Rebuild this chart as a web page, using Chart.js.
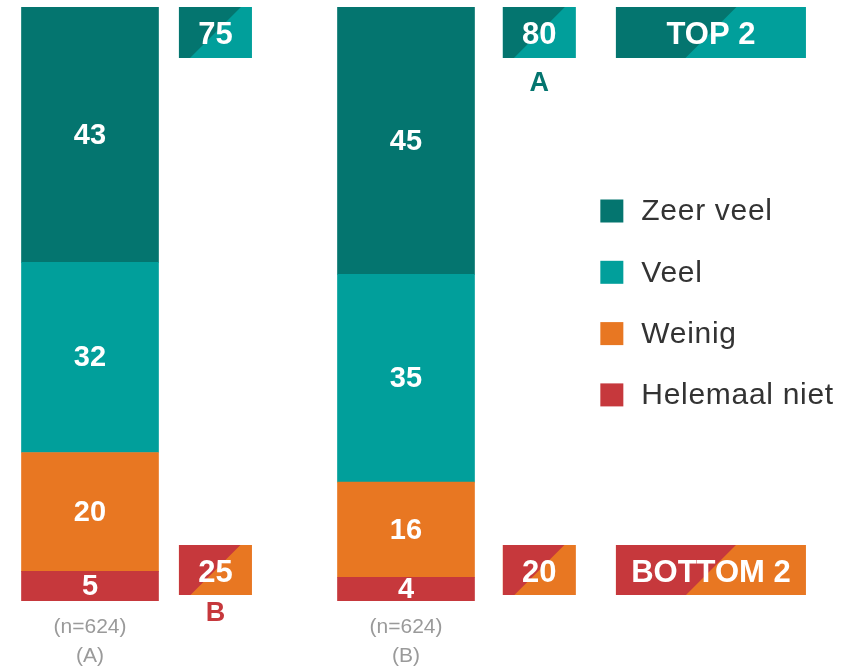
<!DOCTYPE html>
<html>
<head>
<meta charset="utf-8">
<script src="https://cdn.jsdelivr.net/npm/chart.js@4.4.1/dist/chart.umd.min.js"></script>
<style>
  html, body { margin: 0; padding: 0; background: #fff; }
  #wrap { width: 851px; height: 671px; position: relative; }
</style>
</head>
<body>
<div id="wrap"><canvas id="chart"></canvas></div>
<script>
// data
const groups = ["A", "B"];
const sampleSizes = [624, 624];
const seriesNames = ["Helemaal niet", "Weinig", "Veel", "Zeer veel"]; // bottom -> top
const helemaalNiet = [5, 4];
const weinig = [20, 16];
const veel = [32, 35];
const zeerVeel = [43, 45];
const top2Sig = ["", "A"];     // letter shown under the top-2 box
const bottom2Sig = ["B", ""];  // letter shown under the bottom-2 box

const COLORS = {
  "Zeer veel": "#04756f",
  "Veel": "#019f9b",
  "Weinig": "#e87722",
  "Helemaal niet": "#c6383c",
};
const FONT = "'Liberation Sans', Arial, Helvetica, sans-serif";

const seriesValues = [helemaalNiet, weinig, veel, zeerVeel];
const top2 = groups.map((g, i) => veel[i] + zeerVeel[i]);
const bottom2 = groups.map((g, i) => helemaalNiet[i] + weinig[i]);

// x positions (axis units) of the side boxes next to each bar, and of the summary column
const boxPos = [0.397, 1.422];
const summaryPos = 1.965;
const legendPos = 1.615;

function splitBox(ctx, cx, top, w, h, c1, c2, label) {
  const left = cx - w / 2, bottom = top + h;
  ctx.fillStyle = c2;
  ctx.fillRect(left, top, w, h);
  ctx.fillStyle = c1;
  ctx.beginPath();
  ctx.moveTo(left, top);
  ctx.lineTo(cx + h / 2, top);
  ctx.lineTo(cx - h / 2, bottom);
  ctx.lineTo(left, bottom);
  ctx.closePath();
  ctx.fill();
  ctx.fillStyle = "#fff";
  ctx.font = "bold 31px " + FONT;
  ctx.textAlign = "center";
  ctx.textBaseline = "middle";
  ctx.fillText(label, cx, top + h / 2 + 3);
}

const overlay = {
  id: "overlay",
  afterDatasetsDraw(chart) {
    const ctx = chart.ctx;
    const area = chart.chartArea;
    const xs = chart.scales.x;
    ctx.save();

    // values inside the bar segments
    ctx.fillStyle = "#fff";
    ctx.font = "bold 29px " + FONT;
    ctx.textAlign = "center";
    ctx.textBaseline = "middle";
    chart.data.datasets.forEach((ds, di) => {
      chart.getDatasetMeta(di).data.forEach((bar, i) => {
        const v = ds.data[i].y;
        ctx.fillText(String(v), bar.x, (bar.y + bar.base) / 2 + 1);
      });
    });

    // top-2 / bottom-2 boxes per group
    const topY = area.top, boxH = 51;
    const botY = area.bottom - 56;
    groups.forEach((g, i) => {
      const cx = xs.getPixelForValue(boxPos[i]);
      splitBox(ctx, cx, topY, 73, boxH, COLORS["Zeer veel"], COLORS["Veel"], String(top2[i]));
      splitBox(ctx, cx, botY, 73, 50, COLORS["Helemaal niet"], COLORS["Weinig"], String(bottom2[i]));
      ctx.font = "bold 27px " + FONT;
      ctx.textAlign = "center";
      ctx.textBaseline = "middle";
      if (top2Sig[i]) {
        ctx.fillStyle = COLORS["Zeer veel"];
        ctx.fillText(top2Sig[i], cx, topY + boxH + 26);
      }
      if (bottom2Sig[i]) {
        ctx.fillStyle = COLORS["Helemaal niet"];
        ctx.fillText(bottom2Sig[i], cx, botY + 50 + 19);
      }
    });

    // summary boxes
    const sx = xs.getPixelForValue(summaryPos);
    splitBox(ctx, sx, topY, 190, boxH, COLORS["Zeer veel"], COLORS["Veel"], "TOP 2");
    splitBox(ctx, sx, botY, 190, 50, COLORS["Helemaal niet"], COLORS["Weinig"], "BOTTOM 2");

    // legend (top -> bottom)
    const lx = xs.getPixelForValue(legendPos);
    const legendOrder = seriesNames.slice().reverse();
    ctx.font = "30px " + FONT;
    ctx.letterSpacing = "0.7px";
    ctx.textAlign = "left";
    ctx.textBaseline = "middle";
    legendOrder.forEach((name, k) => {
      const cy = area.top + 204 + k * 61.3;
      ctx.fillStyle = COLORS[name];
      ctx.fillRect(lx, cy - 11.5, 23, 23);
      ctx.fillStyle = "#333";
      ctx.fillText(name, lx + 41, cy + 1);
    });

    ctx.restore();
  },
};

const datasets = seriesNames.map((name, si) => ({
  label: name,
  data: groups.map((g, i) => ({ x: i, y: seriesValues[si][i] })),
  backgroundColor: COLORS[name],
  borderWidth: 0,
  barThickness: 137,
}));

new Chart(document.getElementById("chart"), {
  type: "bar",
  data: { datasets },
  plugins: [overlay],
  options: {
    responsive: true,
    maintainAspectRatio: false,
    animation: false,
    layout: { padding: { top: 7, left: 0, right: 0, bottom: -12 } },
    plugins: { legend: { display: false }, tooltip: { enabled: false } },
    scales: {
      x: {
        type: "linear",
        stacked: true,
        offset: false,
        bounds: "ticks",
        min: -90 / 316,
        max: (851 - 90) / 316,
        afterBuildTicks: (scale) => { scale.ticks = groups.map((g, i) => ({ value: i })); },
        ticks: {
          autoSkip: false,
          maxRotation: 0,
          padding: 11.6,
          color: "#9a9a9a",
          font: { family: FONT, size: 21, lineHeight: 1.4 },
          callback: (v) => ["(n=" + sampleSizes[v] + ")", "(" + groups[v] + ")"],
        },
        grid: { display: false, drawTicks: false, offset: false },
        border: { display: false },
      },
      y: {
        stacked: true,
        min: 0,
        max: 100,
        display: false,
      },
    },
  },
});
</script>
</body>
</html>
